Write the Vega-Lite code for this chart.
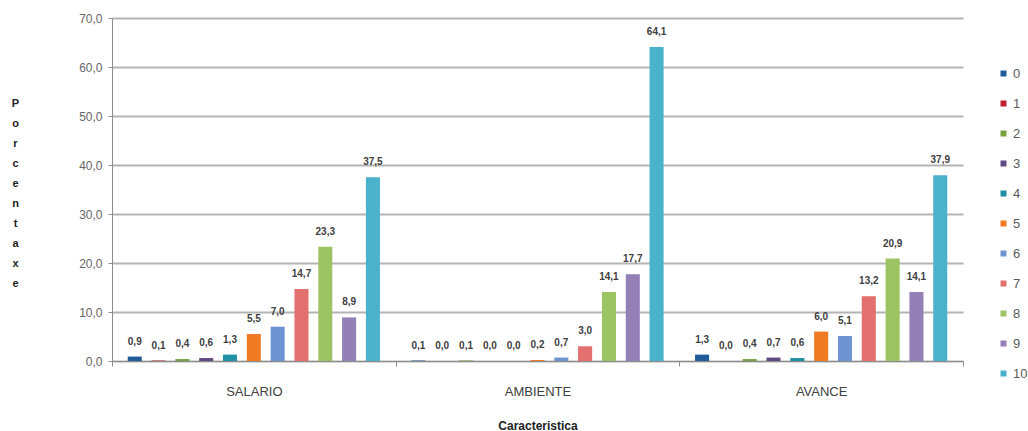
{
  "$schema": "https://vega.github.io/schema/vega-lite/v6.json",
  "autosize": "none",
  "width": 851,
  "height": 343,
  "padding": {"left": 112, "top": 18, "right": 65, "bottom": 70},
  "background": "white",
  "config": {
    "locale": {"number": {"decimal": ",", "thousands": ".", "grouping": [3], "currency": ["", " €"]}},
    "view": {"stroke": null},
    "font": "Liberation Sans"
  },
  "data": {
    "values": [
      {"c": "SALARIO", "k": 0, "v": 0.9},
      {"c": "SALARIO", "k": 1, "v": 0.1},
      {"c": "SALARIO", "k": 2, "v": 0.4},
      {"c": "SALARIO", "k": 3, "v": 0.6},
      {"c": "SALARIO", "k": 4, "v": 1.3},
      {"c": "SALARIO", "k": 5, "v": 5.5},
      {"c": "SALARIO", "k": 6, "v": 7.0},
      {"c": "SALARIO", "k": 7, "v": 14.7},
      {"c": "SALARIO", "k": 8, "v": 23.3},
      {"c": "SALARIO", "k": 9, "v": 8.9},
      {"c": "SALARIO", "k": 10, "v": 37.5},
      {"c": "AMBIENTE", "k": 0, "v": 0.1},
      {"c": "AMBIENTE", "k": 1, "v": 0.0},
      {"c": "AMBIENTE", "k": 2, "v": 0.1},
      {"c": "AMBIENTE", "k": 3, "v": 0.0},
      {"c": "AMBIENTE", "k": 4, "v": 0.0},
      {"c": "AMBIENTE", "k": 5, "v": 0.2},
      {"c": "AMBIENTE", "k": 6, "v": 0.7},
      {"c": "AMBIENTE", "k": 7, "v": 3.0},
      {"c": "AMBIENTE", "k": 8, "v": 14.1},
      {"c": "AMBIENTE", "k": 9, "v": 17.7},
      {"c": "AMBIENTE", "k": 10, "v": 64.1},
      {"c": "AVANCE", "k": 0, "v": 1.3},
      {"c": "AVANCE", "k": 1, "v": 0.0},
      {"c": "AVANCE", "k": 2, "v": 0.4},
      {"c": "AVANCE", "k": 3, "v": 0.7},
      {"c": "AVANCE", "k": 4, "v": 0.6},
      {"c": "AVANCE", "k": 5, "v": 6.0},
      {"c": "AVANCE", "k": 6, "v": 5.1},
      {"c": "AVANCE", "k": 7, "v": 13.2},
      {"c": "AVANCE", "k": 8, "v": 20.9},
      {"c": "AVANCE", "k": 9, "v": 14.1},
      {"c": "AVANCE", "k": 10, "v": 37.9}
    ]
  },
  "encoding": {
    "x": {
      "field": "c", "type": "nominal",
      "sort": ["SALARIO", "AMBIENTE", "AVANCE"],
      "scale": {"paddingInner": 0, "paddingOuter": 0},
      "axis": {
        "title": "Caracteristica",
        "titleFont": "Liberation Sans",
        "titleFontSize": 12,
        "titleFontWeight": "bold",
        "titleColor": "#222222",
        "titlePadding": 22,
        "labelAngle": 0,
        "labelFontSize": 13,
        "labelColor": "#404040",
        "labelPadding": 19,
        "domainColor": "#8c8c8c",
        "domainWidth": 1,
        "tickColor": "#8c8c8c",
        "tickBand": "extent",
        "tickSize": 5,
        "grid": false
      }
    },
    "xOffset": {
      "field": "k", "type": "ordinal",
      "scale": {"paddingInner": 0.41, "paddingOuter": 0.66}
    },
    "y": {
      "field": "v", "type": "quantitative",
      "scale": {"domain": [0, 70], "nice": false},
      "axis": {
        "values": [0, 10, 20, 30, 40, 50, 60, 70],
        "format": ".1f",
        "title": ["P", "o", "r", "c", "e", "n", "t", "a", "x", "e"],
        "titleAngle": 0,
        "titleAlign": "center",
        "titleBaseline": "top",
        "titleX": -97,
        "titleY": 79,
        "titleLineHeight": 20,
        "titleFontSize": 11,
        "titleFontWeight": "bold",
        "titleColor": "#222222",
        "labelFontSize": 12,
        "labelColor": "#666666",
        "labelPadding": 6,
        "tickSize": 4,
        "tickColor": "#8c8c8c",
        "domainColor": "#8c8c8c",
        "gridColor": "#b4b4b4",
        "gridWidth": 2
      }
    }
  },
  "layer": [
    {
      "mark": {"type": "bar"},
      "encoding": {
        "color": {
          "field": "k", "type": "ordinal",
          "scale": {
            "domain": [0, 1, 2, 3, 4, 5, 6, 7, 8, 9, 10],
            "range": ["#1f5c99", "#be2030", "#78a23c", "#5f4a82", "#1f8fa3", "#f07a22", "#6d94d0", "#e46f6f", "#9dc462", "#9280b6", "#4bb2cc"]
          },
          "legend": {
            "title": null,
            "orient": "none",
            "legendX": 885,
            "legendY": 49,
            "symbolType": "square",
            "symbolSize": 36,
            "symbolStrokeWidth": 0,
            "labelFontSize": 13,
            "labelColor": "#595959",
            "labelOffset": 3,
            "rowPadding": 16,
            "symbolOffset": 0
          }
        }
      }
    },
    {
      "mark": {"type": "text", "baseline": "bottom", "dy": -10, "fontSize": 10, "fontWeight": "bold", "color": "#404040"},
      "encoding": {
        "text": {"field": "v", "type": "quantitative", "format": ".1f"}
      }
    }
  ]
}
